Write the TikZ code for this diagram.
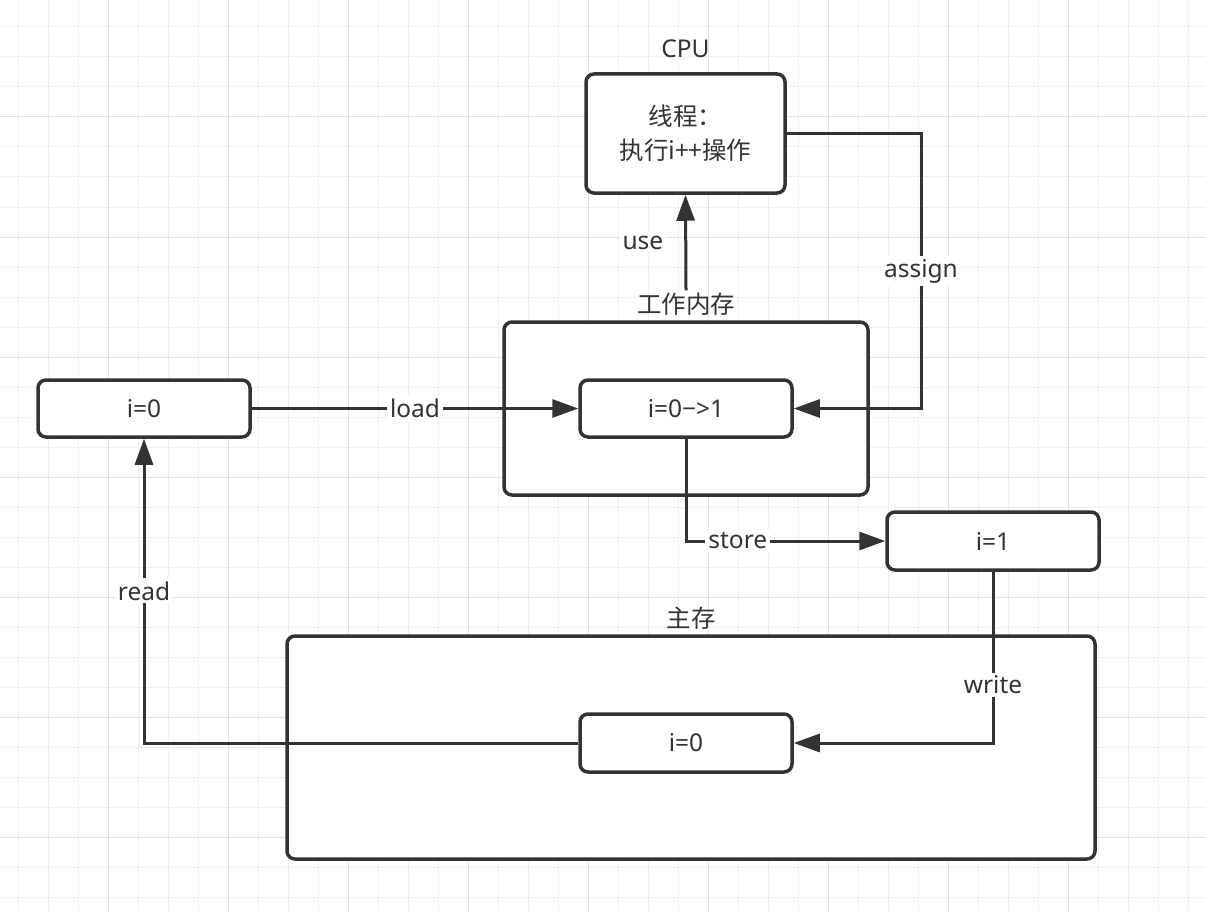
\documentclass[tikz,border=0pt]{standalone}
\usepackage{fontspec}
\setmainfont{Noto Sans}
\newfontfamily\cjk{Noto Sans CJK SC}
\usetikzlibrary{positioning,arrows.meta}
\definecolor{ink}{HTML}{333333}
\definecolor{gridMinor}{HTML}{EFEFEF}
\definecolor{gridMajor}{HTML}{E2E2E2}
\newcommand{\varWidth}[0]{212pt}
\newcommand{\varHeight}[0]{57pt}
\newcommand{\flowWidth}[0]{3pt}

\begin{document}
\begin{tikzpicture}[x=1pt, y=-1pt]
  \tikzset{every node/.style={font=\fontsize{24.5}{34}\selectfont, text=ink},
    var/.style={draw=ink, fill=white, line width=3.5pt, rounded corners=8pt,
      minimum width=\varWidth, minimum height=\varHeight, inner sep=0pt},
    area/.style={draw=ink, fill=white, line width=3.5pt, rounded corners=8pt, inner sep=0pt},
    title/.style={inner sep=2pt},
    flow/.style={draw=ink, line width=\flowWidth, -{Triangle[length=26pt,width=18pt]}},
    tag/.style={fill=white, inner sep=3pt}}
  \useasboundingbox (0,0) rectangle (1206,912);
  \fill[white] (0,0) rectangle (1206,912);
  % grid
  \foreach \x in {18,48,...,1188} \draw[gridMinor, line width=1pt] (\x,0) -- (\x,912);
  \foreach \y in {27,57,...,897} \draw[gridMinor, line width=1pt] (0,\y) -- (1206,\y);
  \foreach \x in {108,228,...,1068} \draw[gridMajor, line width=1pt] (\x,0) -- (\x,912);
  \foreach \y in {117,237,...,837} \draw[gridMajor, line width=1pt] (0,\y) -- (1206,\y);
  % boxes
  \node[area, minimum width=199pt, minimum height=119pt, align=center] (CPU) at (685.5,133.5)
    {\cjk 线程：\\\cjk 执行i++操作};
  \node[title, above=12pt of CPU] (CPU-title) {CPU};
  \node[area, minimum width=364pt, minimum height=173pt] (WM) at (686,408.5) {};
  \node[title, above=3pt of WM] (WM-title) {\cjk 工作内存};
  \node[var] (WM-i) at (686,408.5) {i=0−>1};
  \node[var] (I-0) at (144,408.5) {i=0};
  \node[var, minimum height=58pt] (I-1) at (993,541) {i=1};
  \node[area, minimum width=808pt, minimum height=223pt] (MM) at (691,747.5) {};
  \node[title, above=3pt of MM] (MM-title) {\cjk 主存};
  \node[var, minimum height=58pt] (MM-i) at (686,743) {i=0};
  % flows
  \coordinate (assign-corner) at (921,133.5);
  \draw[flow] (WM-title.north) -- node[tag, left=18pt] {use} (CPU.south);
  \draw[flow] (I-0.east) -- node[tag] {load} (WM-i.west);
  \draw[flow] (CPU.east) -- (assign-corner) |- node[tag, pos=0.25] {assign} (WM-i.east);
  \draw[flow] (WM-i.south) |- node[tag, pos=0.63] {store} (I-1.west);
  \draw[flow] (I-1.south) |- node[tag, pos=0.33] {write} (MM-i.east);
  \draw[flow] (MM-i.west) -| node[tag, pos=0.75] {read} (I-0.south);
\end{tikzpicture}
\end{document}
